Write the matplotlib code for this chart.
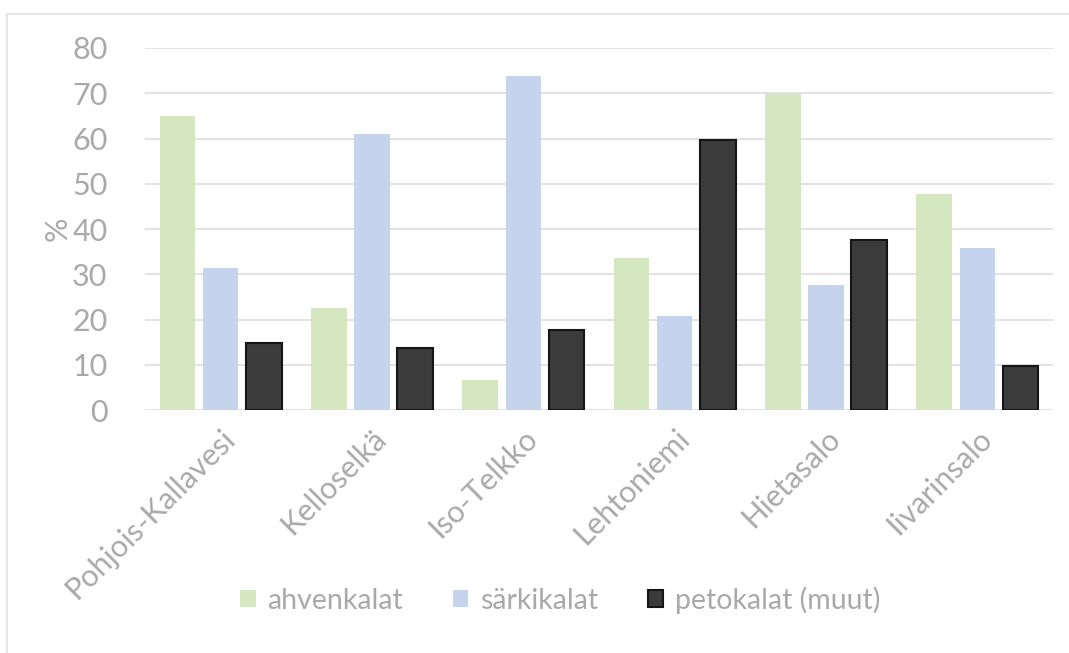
import matplotlib.pyplot as plt
import numpy as np
from matplotlib.patches import Rectangle

plt.rcParams['font.family'] = ['Lato', 'DejaVu Sans']

categories = ['Pohjois-Kallavesi', 'Kelloselkä', 'Iso-Telkko',
              'Lehtoniemi', 'Hietasalo', 'Iivarinsalo']
ahvenkalat = [65, 22.5, 6.6, 33.6, 70, 47.8]
sarkikalat = [31.5, 61, 73.8, 20.8, 27.6, 35.8]
petokalat = [14.8, 13.8, 17.6, 59.7, 37.6, 9.8]
yticks = [0, 10, 20, 30, 40, 50, 60, 70, 80]

TEXT = '#a9a9a9'
GRID = '#e3e3e3'

fig = plt.figure(figsize=(10.69, 6.53), dpi=100)
ax = fig.add_axes([0.1356, 0.372, 0.8494, 0.5545])

# outer chart border (only top and left edges fall inside the image)
fig.patches.append(Rectangle((7 / 1069, -0.1), 1.2, 1 - 14 / 653 + 0.1,
                             transform=fig.transFigure, fill=False,
                             edgecolor='#e6e6e6', linewidth=1.5))

x = np.arange(len(categories))
w = 0.235
off = 0.285
ax.bar(x - off, ahvenkalat, w, color='#d4e7c1', label='ahvenkalat', zorder=3)
ax.bar(x, sarkikalat, w, color='#c5d4ec', label='särkikalat', zorder=3)
ax.bar(x + off, petokalat, w, color='#3b3b3b', edgecolor='#151515',
       linewidth=1.5, label='petokalat (muut)', zorder=3)

ax.set_xlim(-0.5, len(categories) - 0.5)
ax.set_ylim(0, 80)
ax.set_yticks(yticks)
ax.yaxis.grid(True, color=GRID, linewidth=1.5, zorder=0)
ax.set_axisbelow(True)
for s in ax.spines.values():
    s.set_visible(False)
ax.tick_params(axis='both', length=0, colors=TEXT, labelsize=22)
ax.tick_params(axis='y', pad=27)
ax.tick_params(axis='x', pad=10)

ax.set_xticks(x)
ax.set_xticklabels(categories, rotation=45, ha='right', rotation_mode='anchor')
ax.set_ylabel('%', color=TEXT, fontsize=22, labelpad=0)

ax.legend(loc='center', bbox_to_anchor=(0.457, -0.525), ncol=3, frameon=False,
          fontsize=20.5, labelcolor=TEXT, handlelength=0.55, handleheight=0.55,
          handletextpad=0.4, columnspacing=1.75)

fig.savefig('out.png', dpi=100, facecolor='white')
